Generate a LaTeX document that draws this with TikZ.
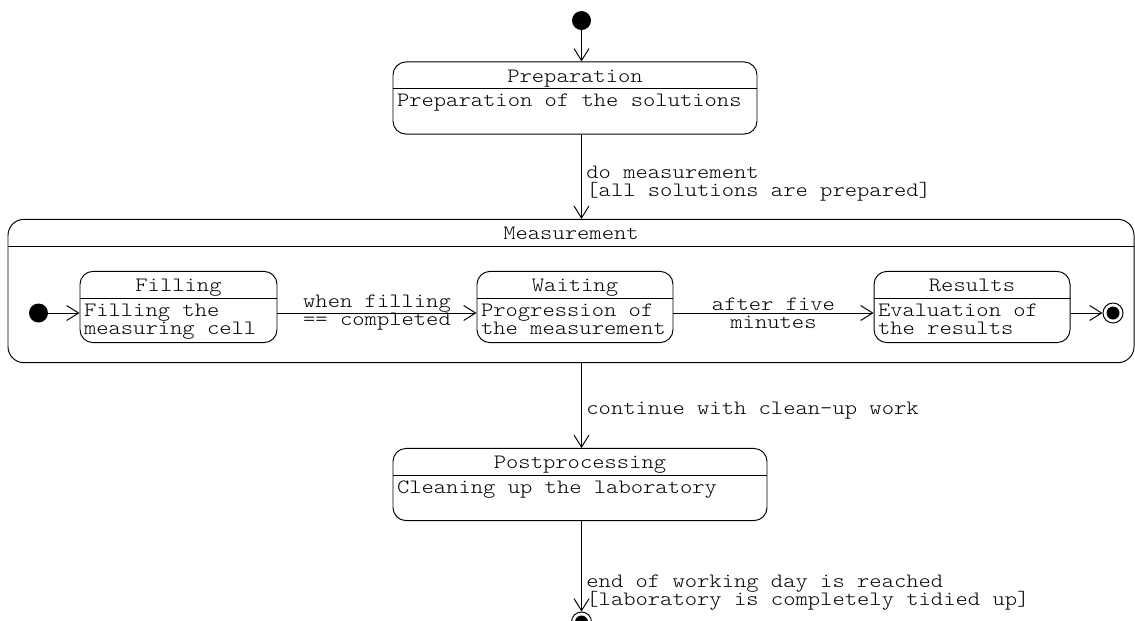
\documentclass[tikz,border=0pt]{standalone}
\usepackage{fontspec}
\setmonofont[FakeStretch=1.15]{lmmonolt10-regular.otf}
\usepackage{array}
\usetikzlibrary{arrows.meta}
\usetikzlibrary{positioning}
\tikzset{
    state/.style={
           rectangle,
           draw=black, line width=0.55pt,
           rounded corners=0.26cm,
           inner sep=0pt},
    superstate/.style={
           state,
           rounded corners=0.32cm},
    startstate/.style={
           circle, fill=black,
           minimum size=0.38cm, inner sep=0pt},
    endstate/.style={
           circle, draw=black, line width=0.55pt, fill=white,
           minimum size=0.4cm, inner sep=0pt,
           path picture={\fill[black] (path picture bounding box.center) circle (0.13cm);}},
    guard/.style={
           right, align=left, inner sep=2.5pt},
    event/.style={
           midway, align=center},
}
\newcommand{\statefont}{\ttfamily\fontsize{11.6pt}{10.2pt}\selectfont}
\newcommand{\headstrut}{\rule[-3.4pt]{0pt}{15pt}}
\newcommand{\bodystrut}{\rule{0pt}{9.9pt}}
\newcommand{\bodyend}[1]{\rule[-#1]{0pt}{#1}}
\setlength{\tabcolsep}{0.08cm}
\setlength{\arrayrulewidth}{0.55pt}
\lineskiplimit=-\maxdimen
\normallineskiplimit=-\maxdimen

\begin{document}
\begin{tikzpicture}[font=\statefont, line width=0.55pt,
    >={Straight Barb[length=6.8pt,width=8.5pt]}]
\useasboundingbox (0,0) rectangle (22.7,-12.4);

 \node[startstate] (START) at (11.63,-0.41) {};

 \node[state,
 below of=START,
 node distance=1.55cm,
 xshift=-0.13cm] (PREPARATION)
 {\begin{tabular}{p{7.12cm}}
  \multicolumn{1}{c}{Preparation\headstrut}\\ \hline
  \bodystrut Preparation of the solutions\bodyend{15.6pt}
 \end{tabular}};

 \node[superstate,
 below of=PREPARATION,
 node distance=3.86cm,
 xshift=-0.08cm] (MEASUREMENT)
 {\begin{tabular}{p{22.36cm}}
  \multicolumn{1}{c}{Measurement\headstrut}\\ \hline
  \rule[-20pt]{0pt}{66pt}
 \end{tabular}};

 \node[state,
 below of=PREPARATION,
 node distance=4.18cm] (WAITING)
 {\begin{tabular}{p{3.76cm}}
  \multicolumn{1}{c}{Waiting\headstrut}\\ \hline
  \bodystrut Progression of\newline the measurement\bodyend{4.9pt}
 \end{tabular}};

 \node[state,
 left of=WAITING,
 node distance=7.93cm] (FILLING)
 {\begin{tabular}{p{3.78cm}}
  \multicolumn{1}{c}{Filling\headstrut}\\ \hline
  \bodystrut Filling the\newline measuring cell\bodyend{4.9pt}
 \end{tabular}};

 \node[state,
 right of=WAITING,
 node distance=7.94cm] (RESULTS)
 {\begin{tabular}{p{3.76cm}}
  \multicolumn{1}{c}{Results\headstrut}\\ \hline
  \bodystrut Evaluation of\newline the results\bodyend{4.9pt}
 \end{tabular}};

 \node[startstate, left of=FILLING, node distance=2.8cm, yshift=-0.12cm] (SUBSTART) {};
 \node[endstate, right of=RESULTS, node distance=2.82cm, yshift=-0.12cm] (SUBEND) {};

 \node[state,
 below of=MEASUREMENT,
 node distance=3.87cm,
 xshift=0.18cm] (POSTPROCESSING)
 {\begin{tabular}{p{7.32cm}}
  \multicolumn{1}{c}{Postprocessing\headstrut}\\ \hline
  \bodystrut Cleaning up the laboratory\bodyend{15.6pt}
 \end{tabular}};

 \node[endstate, below of=POSTPROCESSING, node distance=2.75cm, xshift=0.03cm] (END) {};

 \draw[->] (START) -- (START |- PREPARATION.north);
 \draw[->] (PREPARATION.south -| START) -- node[guard, pos=0.58]
  {do measurement\\{[all solutions are prepared]}} (MEASUREMENT.north -| START);
 \draw[->] (SUBSTART) -- (SUBSTART -| FILLING.west);
 \draw[->] (FILLING.east |- SUBSTART) -- node[event]
  {when filling\\== completed} (WAITING.west |- SUBSTART);
 \draw[->] (WAITING.east |- SUBSTART) -- node[event]
  {after five\\minutes} (RESULTS.west |- SUBSTART);
 \draw[->] (RESULTS.east |- SUBSTART) -- (SUBEND);
 \draw[->] (MEASUREMENT.south -| START) -- node[guard, pos=0.56]
  {continue with clean-up work} (POSTPROCESSING.north -| START);
 \draw[->] (POSTPROCESSING.south -| START) -- node[guard, pos=0.79]
  {end of working day is reached\\{[laboratory is completely tidied up]}} (END);

\end{tikzpicture}
\end{document}
